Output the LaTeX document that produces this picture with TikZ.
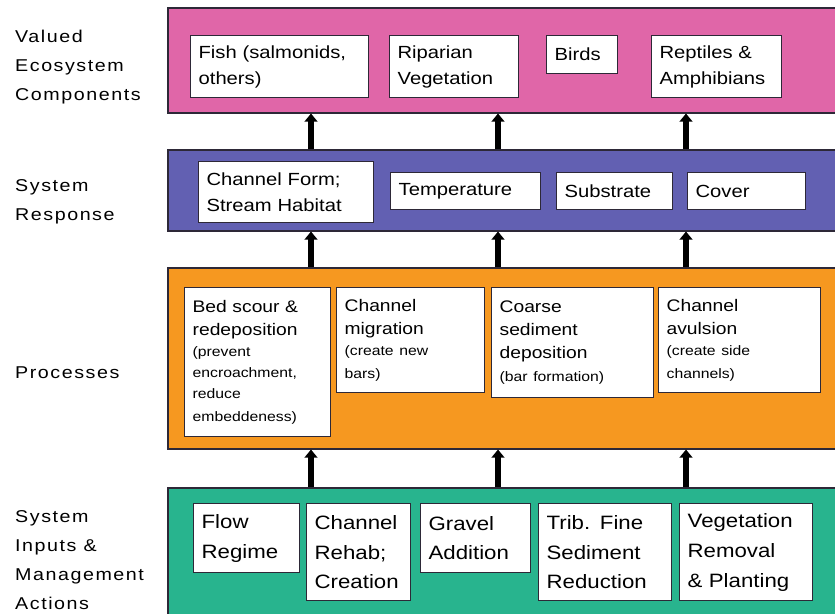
\documentclass[tikz,border=0pt]{standalone}
\usepackage{fontspec}
\setmainfont{Liberation Sans}[FakeStretch=1.15]
\newfontfamily\lblfont{Liberation Sans}[FakeStretch=1.15,LetterSpace=9]
\usetikzlibrary{arrows.meta}

\definecolor{vecpink}{RGB}{224,102,168}
\definecolor{respblue}{RGB}{98,96,178}
\definecolor{procorange}{RGB}{246,152,32}
\definecolor{inpgreen}{RGB}{40,180,142}
\definecolor{rim}{RGB}{45,40,55}

\newcommand{\procnote}{\fontsize{11.7}{17.8}\selectfont}

\tikzset{
  layer/.style={draw=rim, line width=1.3pt, anchor=north west, inner sep=0pt, minimum width=20.55cm},
  item/.style={draw=rim, line width=1.1pt, fill=white, anchor=north west, align=left, inner xsep=0.24cm, inner ysep=0pt},
  rowa/.style={font=\fontsize{15}{22}\selectfont},
  rowc/.style={font=\fontsize{14.3}{19.6}\selectfont},
  rowd/.style={font=\fontsize{16.5}{25.5}\selectfont},
  lbl/.style={anchor=west, align=left, inner sep=0pt, font=\lblfont\fontsize{14.6}{24.6}\selectfont},
  uparrow/.style={-{Triangle[width=11pt,length=7pt]}, line width=5pt},
}

\begin{document}
\begin{tikzpicture}[x=0.03cm, y=-0.03cm]
      \useasboundingbox (0,0) rectangle (835,614);
      \clip (0,0) rectangle (835,614);

      \node[layer, fill=vecpink, minimum height=3.15cm] (vec) at (167,7) {};
      \node[layer, fill=respblue, minimum height=2.43cm] (resp) at (167,149) {};
      \node[layer, fill=procorange, minimum height=5.43cm] (proc) at (167,267) {};
      \node[layer, fill=inpgreen, minimum height=4.5cm] (inp) at (167,487) {};

      \node[lbl] (vecl) at (15,67) {Valued\\Ecosystem\\Components};
      \node[lbl] (respl) at (15,202) {System\\Response};
      \node[lbl] (procl) at (15,373) {Processes};
      \node[lbl] (inpl) at (15,560) {System\\Inputs \&\\Management\\Actions};

      \node[item, rowa, text width=4.86cm, minimum height=1.86cm] (fish) at (190,35) {Fish (salmonids,\\others)};
      \node[item, rowa, text width=3.39cm, minimum height=1.86cm] (riparian) at (389,35) {Riparian\\Vegetation};
      \node[item, rowa, text width=1.65cm, minimum height=1.14cm] (birds) at (546,35) {Birds};
      \node[item, rowa, text width=3.42cm, minimum height=1.86cm] (reptiles) at (651,35) {Reptiles \&\\Amphibians};

      \node[item, rowa, text width=4.77cm, minimum height=1.83cm] (chform) at (198,161) {Channel Form;\\Stream Habitat};
      \node[item, rowa, text width=4.02cm, minimum height=1.11cm] (temp) at (390,172) {Temperature};
      \node[item, rowa, text width=3.0cm, minimum height=1.11cm] (substrate) at (556,172) {Substrate};
      \node[item, rowa, text width=3.06cm, minimum height=1.11cm] (cover) at (687,172) {Cover};

      \node[item, rowc, text width=3.9cm, minimum height=4.47cm] (bedscour) at (184,287) {Bed scour \&\\redeposition\par\procnote (prevent\\encroachment,\\reduce\\embeddeness)};
      \node[item, rowc, text width=3.96cm, minimum height=3.15cm] (migration) at (336,287) {Channel\\migration\par\procnote (create new\\bars)};
      \node[item, rowc, text width=4.38cm, minimum height=3.3cm] (coarse) at (491,287) {Coarse\\sediment\\deposition\par\procnote (bar formation)};
      \node[item, rowc, text width=4.38cm, minimum height=3.15cm] (avulsion) at (658,287) {Channel\\avulsion\par\procnote (create side\\channels)};

      \node[item, rowd, text width=2.7cm, minimum height=2.07cm] (flow) at (193,503) {Flow\\Regime};
      \node[item, rowd, text width=2.64cm, minimum height=2.91cm] (rehab) at (306,503) {Channel\\Rehab;\\Creation};
      \node[item, rowd, text width=2.82cm, minimum height=2.07cm] (gravel) at (420,503) {Gravel\\Addition};
      \node[item, rowd, text width=3.51cm, minimum height=2.91cm] (trib) at (538,503) {Trib. Fine\\Sediment\\Reduction};
      \node[item, rowd, text width=3.51cm, minimum height=2.91cm] (veg) at (679,503) {Vegetation\\Removal\\\& Planting};

      \coordinate (a1) at (311,0);
      \coordinate (a2) at (498,0);
      \coordinate (a3) at (686,0);

      \draw[uparrow] (resp.north -| a1) -- (vec.south -| a1);
      \draw[uparrow] (resp.north -| a2) -- (vec.south -| a2);
      \draw[uparrow] (resp.north -| a3) -- (vec.south -| a3);
      \draw[uparrow] (proc.north -| a1) -- (resp.south -| a1);
      \draw[uparrow] (proc.north -| a2) -- (resp.south -| a2);
      \draw[uparrow] (proc.north -| a3) -- (resp.south -| a3);
      \draw[uparrow] (inp.north -| a1) -- (proc.south -| a1);
      \draw[uparrow] (inp.north -| a2) -- (proc.south -| a2);
      \draw[uparrow] (inp.north -| a3) -- (proc.south -| a3);
\end{tikzpicture}
\end{document}
